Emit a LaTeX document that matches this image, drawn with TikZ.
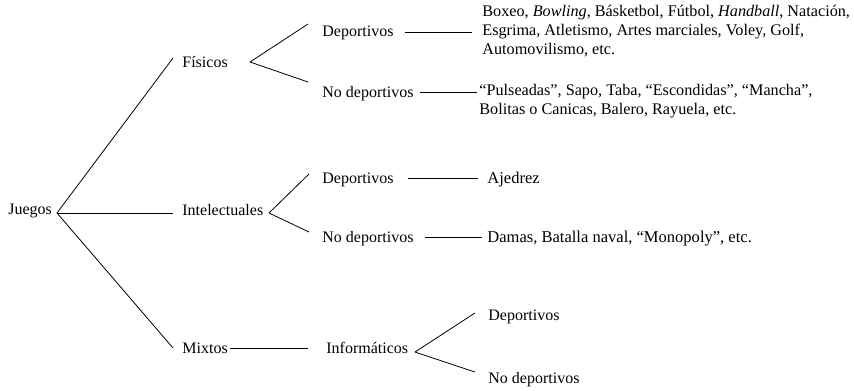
\documentclass[tikz,border=0pt]{standalone}
\usepackage{fontspec}
\setmainfont{Liberation Serif}
\usetikzlibrary{calc}

\begin{document}
\begin{tikzpicture}[x=0.75pt,y=-0.75pt,font=\fontsize{12}{14.3}\selectfont,
    every node/.style={inner sep=0pt,anchor=base west},
    wide/.style={font=\fontsize{12.4}{14.3}\selectfont},
    lst/.style={font=\fontsize{12.15}{14.3}\selectfont,anchor=west,align=left},line width=0.6pt]
        \useasboundingbox (0,0) rectangle (854,390);
        \node (jue) at (8,214) {Juegos};
        \node (fis) at (182,67) {Físicos};
        \node (int) at (182,215) {Intelectuales};
        \node (mix) at (182,353) {Mixtos};
        \node (fdep) at (322,36) {Deportivos};
        \node (fnod) at (322,97) {No deportivos};
        \node (idep) at (322,183) {Deportivos};
        \node (inod) at (322,242) {No deportivos};
        \node (inf) at (326,353) {Informáticos};
        \node (mdep) at (488,320) {Deportivos};
        \node (mnod) at (488,383) {No deportivos};
        \node[lst] (flst1) at (482,31) {Boxeo, \textit{Bowling}, Básketbol, Fútbol, \textit{Handball}, Natación,\\Esgrima, Atletismo, Artes marciales, Voley, Golf,\\Automovilismo, etc.};
        \node[lst] (flst2) at (479,101) {“Pulseadas”, Sapo, Taba, “Escondidas”, “Mancha”,\\Bolitas o Canicas, Balero, Rayuela, etc.};
        \node[wide] (ajed) at (487,183) {Ajedrez};
        \node[wide] (dam) at (487,242) {Damas, Batalla naval, “Monopoly”, etc.};

        \draw ($(jue.base west)+(49,-1)$) -- ($(fis.base west)+(-9,-9)$);
        \draw ($(jue.base west)+(49,-1)$) -- ($(int.base west)+(-9,-2)$);
        \draw ($(jue.base west)+(49,-1)$) -- ($(mix.base west)+(-9,-5)$);
        \draw ($(fis.base west)+(68,-5)$) -- ($(fdep.base west)+(-14,-12)$);
        \draw ($(fis.base west)+(68,-5)$) -- ($(fnod.base west)+(-14,-15)$);
        \draw ($(int.base west)+(87,-2)$) -- ($(idep.base west)+(-13,-9)$);
        \draw ($(int.base west)+(87,-2)$) -- ($(inod.base west)+(-13,-10)$);
        \draw ($(mix.base west)+(48,-5)$) -- ($(inf.base west)+(-18,-5)$);
        \draw ($(inf.base west)+(89,-1)$) -- ($(mdep.base west)+(-13,-7)$);
        \draw ($(inf.base west)+(89,-1)$) -- ($(mnod.base west)+(-13,-11)$);
        \draw ($(fdep.base west)+(83,-4)$) -- ($(flst1.west)+(-10,1)$);
        \draw ($(fnod.base west)+(98,-5)$) -- ($(flst2.west)+(-2,-9)$);
        \draw ($(idep.base west)+(86,-5)$) -- ($(ajed.base west)+(-9,-5)$);
        \draw ($(inod.base west)+(103,-5)$) -- ($(dam.base west)+(-5,-5)$);
    \end{tikzpicture}
\end{document}
